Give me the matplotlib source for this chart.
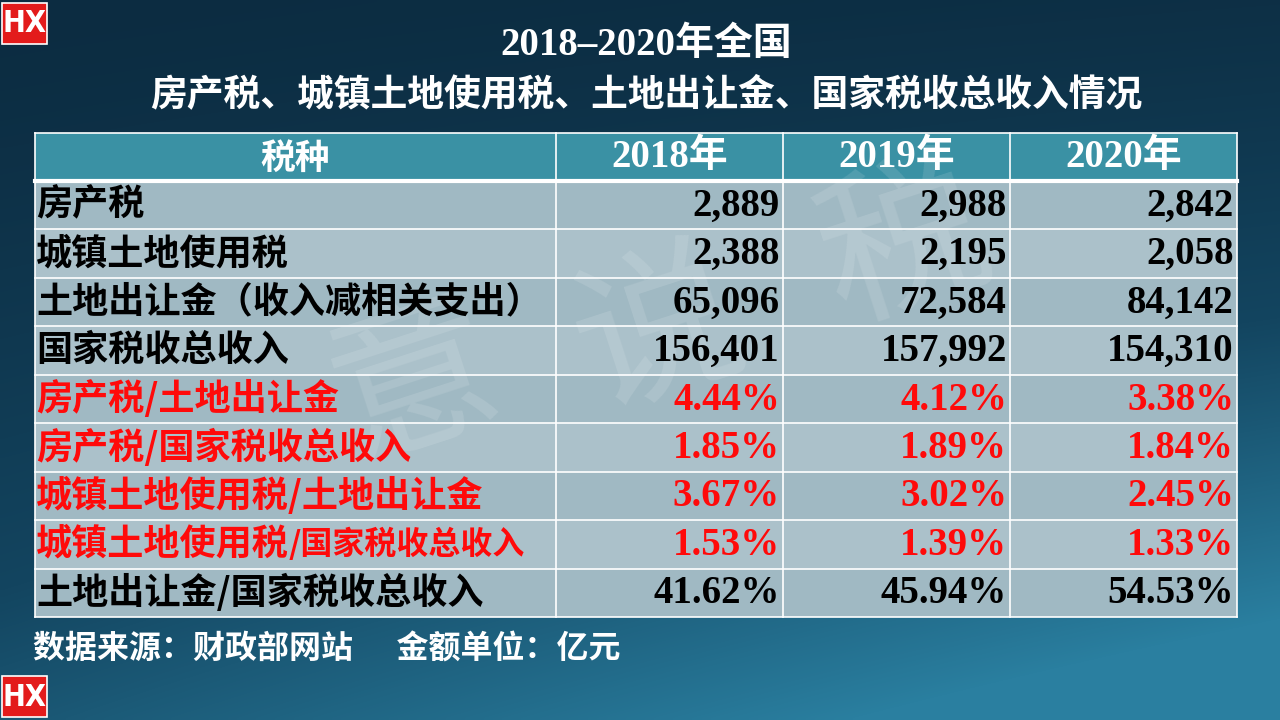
import numpy as np
import matplotlib
matplotlib.use("Agg")
import matplotlib.pyplot as plt
from matplotlib.patches import Rectangle
from matplotlib.colors import LinearSegmentedColormap

# ---------------- data ----------------
title_line1 = "2018–2020年全国"
title_line2 = "房产税、城镇土地使用税、土地出让金、国家税收总收入情况"
header = ["税种", "2018年", "2019年", "2020年"]
categories = [
    "房产税",
    "城镇土地使用税",
    "土地出让金（收入减相关支出）",
    "国家税收总收入",
    "房产税/土地出让金",
    "房产税/国家税收总收入",
    "城镇土地使用税/土地出让金",
    "城镇土地使用税/国家税收总收入",
    "土地出让金/国家税收总收入",
]
# amounts (亿元) for the first four rows
amounts_2018 = [2889, 2388, 65096, 156401]
amounts_2019 = [2988, 2195, 72584, 157992]
amounts_2020 = [2842, 2058, 84142, 154310]
# ratios (%) for the last five rows
ratios_2018 = [4.44, 1.85, 3.67, 1.53, 41.62]
ratios_2019 = [4.12, 1.89, 3.02, 1.39, 45.94]
ratios_2020 = [3.38, 1.84, 2.45, 1.33, 54.53]
red_rows = [4, 5, 6, 7]
footer = "数据来源：财政部网站      金额单位：亿元"
watermark = ["意", "说", "税"]

# ---------------- figure ----------------
W, H = 1280, 720
fig = plt.figure(figsize=(12.8, 7.2), dpi=100)
ax = fig.add_axes([0, 0, 1, 1])
ax.set_xlim(0, W)
ax.set_ylim(H, 0)
ax.axis("off")

# background gradient
yy, xx = np.mgrid[0:H:4, 0:W:4]
t = np.clip(0.65 * (yy / H) ** 1.3 + 0.45 * (xx / W) * (yy / H) + 0.08 * xx / W, 0, 1)
cmap = LinearSegmentedColormap.from_list("bg", ["#0c2c41", "#134560", "#2a7fa0"])
ax.imshow(t, cmap=cmap, extent=[0, W, H, 0], aspect="auto", zorder=0, interpolation="bilinear")

CJK = "Noto Sans CJK SC"
SERIF = ["Liberation Serif", CJK]

# titles
ax.text(646, 46, title_line1, ha="center", va="center", color="white",
        fontsize=28, fontweight="bold", family=SERIF, zorder=5)
ax.text(646, 95, title_line2, ha="center", va="center", color="white",
        fontsize=26.5, fontweight="bold", family=CJK, zorder=5)

# table geometry
col_edges = [35, 556, 783, 1010, 1237]
head_top, head_bot = 133, 181
body_bot = 617
n = len(categories)
row_h = (body_bot - head_bot) / n

# header
ax.add_patch(Rectangle((col_edges[0], head_top), col_edges[-1] - col_edges[0],
                       head_bot - head_top, facecolor="#3a91a4", edgecolor="none", zorder=1))
row_colors = ["#a0b9c3", "#abc1ca"]
for i in range(n):
    ax.add_patch(Rectangle((col_edges[0], head_bot + i * row_h), col_edges[-1] - col_edges[0],
                           row_h, facecolor=row_colors[i % 2], edgecolor="none", zorder=1))

# watermark
wm_pos = [(415, 385), (660, 335), (905, 248)]
for ch, (x, y) in zip(watermark, wm_pos):
    ax.text(x, y, ch, ha="center", va="center", color="white", alpha=0.12,
            fontsize=120, family=CJK, fontweight="light", rotation=18, zorder=2)

# grid lines
for x in col_edges:
    ax.plot([x, x], [head_top, body_bot], color="white", lw=1.2, zorder=3)
ax.plot([col_edges[0], col_edges[-1]], [head_top, head_top], color="white", lw=1.2, zorder=3)
ax.plot([col_edges[0], col_edges[-1]], [head_bot, head_bot], color="white", lw=3, zorder=3)
for i in range(1, n + 1):
    yl = head_bot + i * row_h
    ax.plot([col_edges[0], col_edges[-1]], [yl, yl], color="white", lw=1.2, zorder=3)

# header text
hy = (head_top + head_bot) / 2
for j, h in enumerate(header):
    cx = (col_edges[j] + col_edges[j + 1]) / 2
    ax.text(cx, hy + 1, h, ha="center", va="center", color="white",
            fontsize=28 if j else 25, fontweight="bold",
            family=SERIF if j else CJK, zorder=5)

# body text
cols = [(amounts_2018, ratios_2018), (amounts_2019, ratios_2019), (amounts_2020, ratios_2020)]
for i, cat in enumerate(categories):
    cy = head_bot + (i + 0.5) * row_h
    color = "#ff0a0a" if i in red_rows else "black"
    if i == 7:
        first, second = cat.split("/", 1)
        t1 = ax.text(col_edges[0] + 1, cy, first, ha="left", va="center", color=color,
                     fontsize=26, fontweight="bold", family=CJK, zorder=5)
        ax.annotate("/" + second, xy=(1, 0.5), xycoords=t1, ha="left", va="center",
                    color=color, fontsize=23, fontweight="bold", family=CJK, zorder=5)
    else:
        ax.text(col_edges[0] + 1, cy, cat, ha="left", va="center", color=color,
                fontsize=26, fontweight="bold", family=CJK, zorder=5)
    for j, (amts, rats) in enumerate(cols):
        if i < len(amts):
            s = f"{amts[i]:,}"
        else:
            s = f"{rats[i - len(amts)]:.2f}%"
        ax.text(col_edges[j + 2] - 3, cy + 1, s, ha="right", va="center", color=color,
                fontsize=28, fontweight="bold", family="Liberation Serif", zorder=5)

# footer
ax.text(33, 650, footer, ha="left", va="center", color="white", fontsize=23,
        fontweight="bold", family=CJK, zorder=5)

# HX logos
for (x0, y0) in [(2, 3), (2, 676)]:
    ax.add_patch(Rectangle((x0, y0), 45, 41, facecolor="#e31b1b", edgecolor="white",
                           lw=1.2, zorder=6))
    ax.text(x0 + 22.5, y0 + 21, "HX", ha="center", va="center", color="white",
            fontsize=22, fontweight="bold", family="DejaVu Sans", fontstretch="condensed",
            zorder=7)

fig.savefig("out.png", dpi=100)
